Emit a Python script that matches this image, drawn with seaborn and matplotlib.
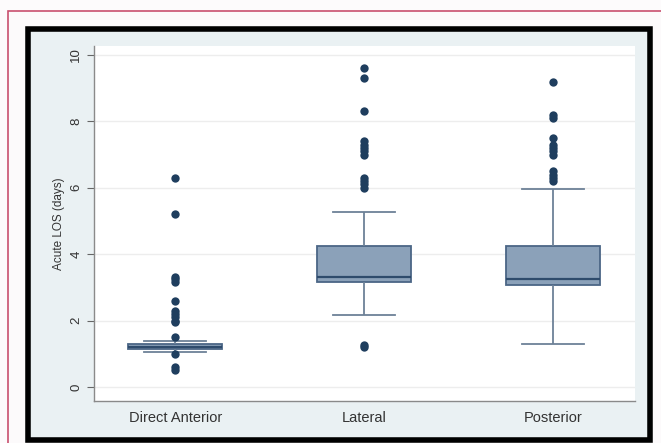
import matplotlib
matplotlib.use("Agg")
import matplotlib.pyplot as plt
import matplotlib.patches as patches
import seaborn as sns
import numpy as np
import pandas as pd

# categories
groups = ["Direct Anterior", "Lateral", "Posterior"]

# box summary (whisker ends, quartiles, median)
whisker_low = [1.07, 2.17, 1.29]
quart_1 = [1.14, 3.17, 3.07]
median = [1.22, 3.32, 3.25]
quart_3 = [1.31, 4.26, 4.26]
whisker_high = [1.39, 5.27, 5.97]

# outlying points
out_anterior = [6.3, 5.2, 3.3, 3.25, 3.15, 2.6, 2.3, 2.2, 2.1, 2.0, 1.95, 1.5, 1.0, 0.6, 0.5]
out_lateral = [9.6, 9.3, 8.3, 7.4, 7.3, 7.2, 7.1, 7.0, 6.3, 6.2, 6.1, 6.0, 1.28, 1.2]
out_posterior = [9.2, 8.2, 8.1, 7.5, 7.3, 7.2, 7.1, 7.0, 6.5, 6.4, 6.3, 6.2]

box_rows = []
for i, g in enumerate(groups):
    for v in [whisker_low[i], quart_1[i], median[i], quart_3[i], whisker_high[i]]:
        box_rows.append({"approach": g, "los": v})
box_df = pd.DataFrame(box_rows)

out_rows = []
for g, vals in zip(groups, [out_anterior, out_lateral, out_posterior]):
    for v in vals:
        out_rows.append({"approach": g, "los": v})
out_df = pd.DataFrame(out_rows)

plt.rcParams["font.family"] = ["Liberation Sans", "DejaVu Sans"]

fig = plt.figure(figsize=(6.61, 4.43), dpi=100)
fig.patch.set_facecolor("#fdfbfc")

# outer pink border and black framed panel
fig.patches.append(patches.Rectangle((8 / 661, -0.1), 1.2, (443 - 11) / 443 + 0.1,
                                     transform=fig.transFigure, facecolor="#fcfafb",
                                     edgecolor="#c9506f", lw=1.2, zorder=0))
fig.patches.append(patches.Rectangle((28 / 661, 3 / 443), (650 - 28) / 661, (440 - 29) / 443,
                                     transform=fig.transFigure, facecolor="#eaf1f3",
                                     edgecolor="black", lw=4, zorder=1))

ax = fig.add_axes([94 / 661, (443 - 401) / 443, (635 - 94) / 661, (401 - 46) / 443])
ax.set_facecolor("white")
ax.set_zorder(2)

edge = "#4b6686"
sns.boxplot(data=box_df, x="approach", y="los", order=groups, whis=(0, 100),
            width=0.5, color="#8ba1b9", linecolor=edge, linewidth=1.3,
            showfliers=False, saturation=1, ax=ax,
            medianprops={"color": "#2e4b6c", "linewidth": 1.6},
            whiskerprops={"color": "#6d8197", "linewidth": 1.3},
            capprops={"color": "#6d8197", "linewidth": 1.3},
            capwidths=0.33)
sns.stripplot(data=out_df, x="approach", y="los", order=groups, jitter=False,
              color="#1f3e5e", size=6, linewidth=0, ax=ax, zorder=5)

ax.set_xlim(-0.43, 2.434)
ax.set_ylim(-0.42, 10.27)
ax.set_yticks([0, 2, 4, 6, 8, 10])
ax.yaxis.grid(True, color="#ededed", linewidth=1)
ax.set_axisbelow(True)

ax.tick_params(axis="y", labelrotation=90, labelsize=9.5, colors="#666666",
               length=5, width=0.8, labelcolor="#333333")
for lab in ax.get_yticklabels():
    lab.set_va("center")
ax.tick_params(axis="x", length=0, labelsize=10.5, labelcolor="#333333", pad=7)

for s in ["top", "right"]:
    ax.spines[s].set_visible(False)
for s in ["left", "bottom"]:
    ax.spines[s].set_color("#8a8a8a")
    ax.spines[s].set_linewidth(1)

ax.set_xlabel("")
ax.set_ylabel("Acute LOS (days)", fontsize=8.5, color="#333333", labelpad=4)

fig.savefig("out.png", dpi=100, facecolor=fig.get_facecolor())
